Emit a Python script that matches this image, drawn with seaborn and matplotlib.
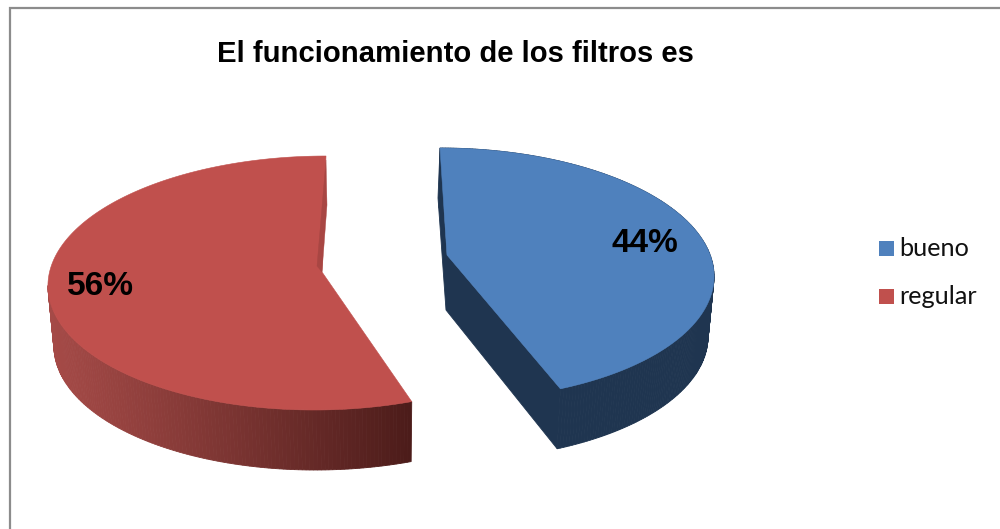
import numpy as np
import matplotlib
matplotlib.use("Agg")
import matplotlib.pyplot as plt
from matplotlib.colors import to_rgb
import seaborn as sns

# Survey result
categories = ["bueno", "regular"]
percentages = [44, 56]
title = "El funcionamiento de los filtros es"

sns.set_theme(style="white")
plt.rcParams["font.family"] = ["Liberation Sans", "DejaVu Sans"]
top_colors = sns.color_palette(["#4f81bd", "#c0504d"])

W, H = 1000, 529
fig = plt.figure(figsize=(W / 100, H / 100), dpi=100, facecolor="white")
ax = fig.add_axes([0, 0, 1, 1])
ax.set_xlim(0, W)
ax.set_ylim(H, 0)
ax.axis("off")

DEPTH = 60          # height of the extruded wall
SHRINK = 0.982      # the lower rim recedes slightly towards the view axis
AXIS_X = 380


def lower(x, y):
    return AXIS_X + (np.asarray(x) - AXIS_X) * SHRINK, np.asarray(y) + DEPTH


def rim(start, sweep, cx, cy, rx, ry, foreshorten, shear, n=240):
    """Rim of a slice, angles in degrees clockwise from twelve o'clock."""
    t = np.radians(np.linspace(start, start + sweep, n))
    t = t - foreshorten * np.sin(t)
    return cx + rx * np.sin(t) + shear * np.cos(t), cy - ry * np.cos(t)


def wall(x, y, shades):
    bx, by = lower(x, y)
    for i in range(len(x) - 1):
        ax.fill([x[i], x[i + 1], bx[i + 1], bx[i]],
                [y[i], y[i + 1], by[i + 1], by[i]],
                color=shades[i], lw=0.6, zorder=2)


sweeps = [p * 3.6 for p in percentages]

# Blue slice, pulled out to the right
navy = "#1f3550"
bx, by = rim(0, sweeps[0], 445, 274, 269, 126, 0.13, -5)
apex = (447, 255)
wall(bx, by, [navy] * len(bx))
bot_x, bot_y = lower(bx, by)
ax.fill([bx[0], 438, 446, bot_x[-1], bx[-1], apex[0]],
        [by[0], 198, 310, bot_y[-1], by[-1], apex[1]],
        color=navy, lw=0.6, zorder=3)
ax.fill(np.r_[apex[0], bx], np.r_[apex[1], by], color=top_colors[0], lw=0.4, zorder=4)

# Red slice, pulled out to the left
rx, ry = rim(sweeps[0], sweeps[1], 320, 283, 272, 127, -0.03, 6)
apex = (322, 272)
light = np.array(to_rgb("#a54a47"))
dark = np.array(to_rgb("#4c1c1a"))
# Wall shading runs from the left edge of the slice to its front corner;
# the rear part of the rim has no visible wall
fade = np.clip((rx - 48) / (411 - 48), 0, 1)
shades = [tuple(light + (dark - light) * f ** 1.1) for f in fade]
visible = int(np.argmin(rx)) + 1
wall(rx[:visible], ry[:visible], shades[:visible])
ax.fill(np.r_[apex[0], rx], np.r_[apex[1], ry], color=top_colors[1], lw=0.4, zorder=4)
# Narrow cut face along the rear edge
ax.fill([rx[-1], 327, apex[0], 317],
        [ry[-1] + 4, 205, apex[1], 266],
        color="#a84643", lw=0.3, zorder=4.5)

# Percentage labels
ax.text(645, 251.7, f"{percentages[0]}%", fontsize=24, fontweight="bold",
        color="black", ha="center", va="baseline", zorder=5)
ax.text(100.5, 295, f"{percentages[1]}%", fontsize=24, fontweight="bold",
        color="black", ha="center", va="baseline", zorder=5)

ax.text(455, 62, title, fontsize=21.1, fontweight="bold", color="black",
        ha="center", va="baseline")

# Legend
legend_baselines = [256, 304]
for name, color, y, base in zip(categories, top_colors, [248.5, 296.5], legend_baselines):
    ax.fill([879, 894, 894, 879], [y - 7.5, y - 7.5, y + 7.5, y + 7.5],
            color=color, lw=0)
    ax.text(899.5, base, name, fontsize=18.2, color="#111111", ha="left", va="baseline",
            family=["Lato", "DejaVu Sans"])

# Chart frame
ax.plot([10, 10, W], [H, 8, 8], color="#8c8c8c", lw=1.6, solid_joinstyle="miter")

fig.savefig("out.png", dpi=100, facecolor="white")
